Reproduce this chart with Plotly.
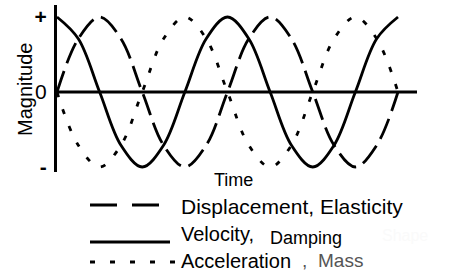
import plotly.graph_objects as go

time = [0, 0.125, 0.25, 0.375, 0.5, 0.625, 0.75, 0.875, 1.0,
        1.125, 1.25, 1.375, 1.5, 1.625, 1.75, 1.875, 2.0]
displacement = [0, 0.71, 1, 0.71, 0, -0.71, -1, -0.71, 0,
                0.71, 1, 0.71, 0, -0.71, -1, -0.71, 0]
velocity = [1, 0.71, 0, -0.71, -1, -0.71, 0, 0.71, 1,
            0.71, 0, -0.71, -1, -0.71, 0, 0.71, 1]
acceleration = [0, -0.71, -1, -0.71, 0, 0.71, 1, 0.71, 0,
                -0.71, -1, -0.71, 0, 0.71, 1, 0.71, 0]
tick_vals = [1, 0, -1]
tick_text = ["<b>+</b>", "0", "<b>-</b>"]

W, H = 451, 276
L, R, T, B = 57, 34, 5, 104
PW, PH = W - L - R, H - T - B
FONT = "Arial, Liberation Sans, sans-serif"

X_MAX = 2.0 * 360 / 341
# zero line at y=92 px, amplitude 75 px
Y_MAX = (92 - T) / 75
Y_MIN = -((H - B) - 92) / 75


def px(x):
    return (x - L) / PW


def py(y):
    return (H - B - y) / PH


fig = go.Figure()
common = dict(mode="lines", line_shape="spline", showlegend=False,
              hoverinfo="skip")
fig.add_trace(go.Scatter(x=time, y=displacement,
                         line=dict(color="black", width=2.8, dash="22px,8px"),
                         **common))
fig.add_trace(go.Scatter(x=time, y=velocity,
                         line=dict(color="black", width=2.8), **common))
fig.add_trace(go.Scatter(x=time, y=acceleration,
                         line=dict(color="black", width=2.8, dash="5px,13px"),
                         **common))

shapes = [
    # horizontal zero axis
    dict(type="line", xref="x", yref="y", x0=0, x1=X_MAX, y0=0, y1=0,
         line=dict(color="black", width=3), layer="below"),
    # legend samples
    dict(type="line", xref="paper", yref="paper", x0=px(90), x1=px(160),
         y0=py(205), y1=py(205),
         line=dict(color="black", width=2.8, dash="27px,15px")),
    dict(type="line", xref="paper", yref="paper", x0=px(90), x1=px(170),
         y0=py(242), y1=py(242), line=dict(color="black", width=2.8)),
    dict(type="line", xref="paper", yref="paper", x0=px(90), x1=px(175),
         y0=py(262), y1=py(262),
         line=dict(color="black", width=2.8, dash="5px,15px")),
]

annotations = [
    dict(text="Time", x=px(233), y=py(180), size=18),
    dict(text="Magnitude", x=px(25), y=py(90), size=20, angle=-90),
    dict(text="Displacement, Elasticity", x=px(179), y=py(206), size=21,
         anchor="left"),
    dict(text="Velocity,", x=px(179), y=py(234), size=20, anchor="left"),
    dict(text="Damping", x=px(268), y=py(238), size=18, anchor="left"),
    dict(text="Shape", x=px(380), y=py(236), size=16, anchor="left",
         color="#fafafa"),
    dict(text="Acceleration", x=px(179), y=py(261), size=20, anchor="left"),
    dict(text=",", x=px(300), y=py(260), size=19, anchor="left",
         color="#555555"),
    dict(text="Mass", x=px(316), y=py(260), size=19, anchor="left",
         color="#555555"),
]
ann = []
for a in annotations:
    ann.append(dict(
        text=a["text"], xref="paper", yref="paper", x=a["x"], y=a["y"],
        xanchor=a.get("anchor", "center"), yanchor="middle",
        showarrow=False, textangle=a.get("angle", 0),
        font=dict(family=FONT, size=a["size"], color=a.get("color", "black")),
    ))

fig.update_layout(
    width=W, height=H,
    margin=dict(l=L, r=R, t=T, b=B, pad=0),
    paper_bgcolor="white", plot_bgcolor="white",
    shapes=shapes, annotations=ann,
    xaxis=dict(range=[0, X_MAX], showgrid=False, zeroline=False,
               showticklabels=False, ticks="", showline=False, fixedrange=True),
    yaxis=dict(range=[Y_MIN, Y_MAX], showgrid=False, zeroline=False,
               tickvals=tick_vals, ticktext=tick_text, ticks="",
               tickfont=dict(family=FONT, size=21, color="black"),
               showline=True, linecolor="black", linewidth=3,
               ticklabelstandoff=3, fixedrange=True),
)

fig.write_html("out.html", config={"displayModeBar": False},
               post_script="document.body.style.margin='0';"
                           "document.body.style.overflow='hidden';")
